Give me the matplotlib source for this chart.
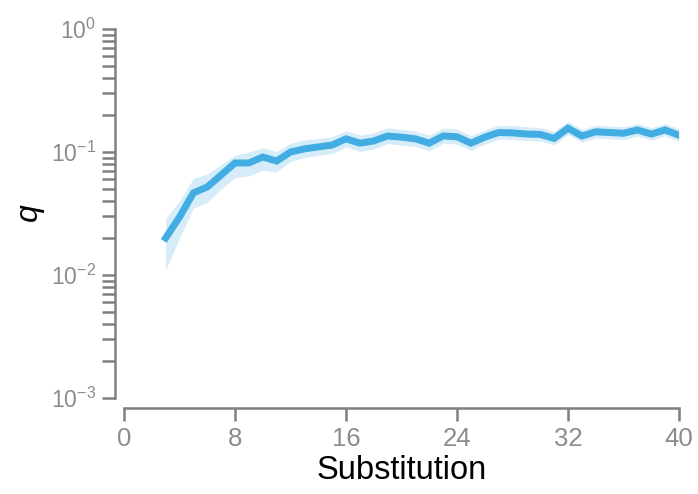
import matplotlib
matplotlib.use("Agg")
import matplotlib.pyplot as plt
import numpy as np
from matplotlib.ticker import LogLocator, FixedLocator

plt.rcParams['font.family'] = ['Liberation Sans', 'DejaVu Sans']
plt.rcParams['mathtext.fontset'] = 'custom'
plt.rcParams['mathtext.rm'] = 'Liberation Sans'
plt.rcParams['mathtext.it'] = 'Liberation Sans:italic'

# data
substitution = list(range(3, 41))
q_mean = [0.020, 0.0296, 0.0465, 0.052, 0.065, 0.0815, 0.0815, 0.091, 0.0845, 0.100,
          0.106, 0.110, 0.114, 0.128, 0.118, 0.123, 0.135, 0.132, 0.128, 0.118,
          0.135, 0.133, 0.118, 0.132, 0.144, 0.143, 0.140, 0.139, 0.129, 0.156,
          0.135, 0.146, 0.144, 0.142, 0.151, 0.140, 0.151, 0.137]
q_upper = [0.029, 0.040, 0.061, 0.066, 0.079, 0.094, 0.100, 0.108, 0.101, 0.118,
           0.125, 0.129, 0.133, 0.149, 0.137, 0.143, 0.157, 0.153, 0.148, 0.137,
           0.156, 0.154, 0.136, 0.151, 0.165, 0.164, 0.160, 0.158, 0.147, 0.177,
           0.153, 0.165, 0.163, 0.160, 0.170, 0.158, 0.170, 0.154]
q_lower = [0.011, 0.020, 0.035, 0.039, 0.050, 0.062, 0.064, 0.071, 0.069, 0.084,
           0.090, 0.094, 0.097, 0.110, 0.101, 0.106, 0.117, 0.114, 0.111, 0.102,
           0.118, 0.116, 0.103, 0.116, 0.127, 0.126, 0.124, 0.123, 0.114, 0.139,
           0.120, 0.130, 0.128, 0.126, 0.135, 0.125, 0.135, 0.122]
x_ticks = [0, 8, 16, 24, 32, 40]

line_col = '#41ade2'
band_col = '#d6ecf8'
gray = '#808080'

fig = plt.figure(figsize=(6.98, 4.94), dpi=100)
ax = fig.add_axes([0.1777, 0.1943, 0.7951, 0.747])

ax.fill_between(substitution, q_lower, q_upper, color=band_col, lw=0)
ax.plot(substitution, q_mean, color=line_col, lw=5, solid_joinstyle='miter')

ax.set_yscale('log')
ax.set_ylim(1e-3, 1)
ax.set_xlim(0, 40)
ax.xaxis.set_major_locator(FixedLocator(x_ticks))
ax.yaxis.set_major_locator(LogLocator(base=10, numticks=10))
ax.yaxis.set_minor_locator(LogLocator(base=10, subs=np.arange(2, 10), numticks=10))

for side in ['top', 'right']:
    ax.spines[side].set_visible(False)
ax.spines['left'].set_position(('outward', 6.5))
ax.spines['bottom'].set_position(('outward', 7.2))
for side in ['left', 'bottom']:
    ax.spines[side].set_color(gray)
    ax.spines[side].set_linewidth(1.8)

ax.tick_params(which='both', direction='out', color=gray, width=1.8, length=9.5,
               labelcolor='#8c8c8c', pad=4)
ax.tick_params(axis='x', labelsize=18.5)
ax.tick_params(axis='y', labelsize=16.5)

ax.set_xlabel('Substitution', fontsize=23.5, labelpad=3)
ax.set_ylabel('$q$', fontsize=23)
ax.yaxis.set_label_coords(-0.139, 0.5)

fig.savefig('out.png', dpi=100)
